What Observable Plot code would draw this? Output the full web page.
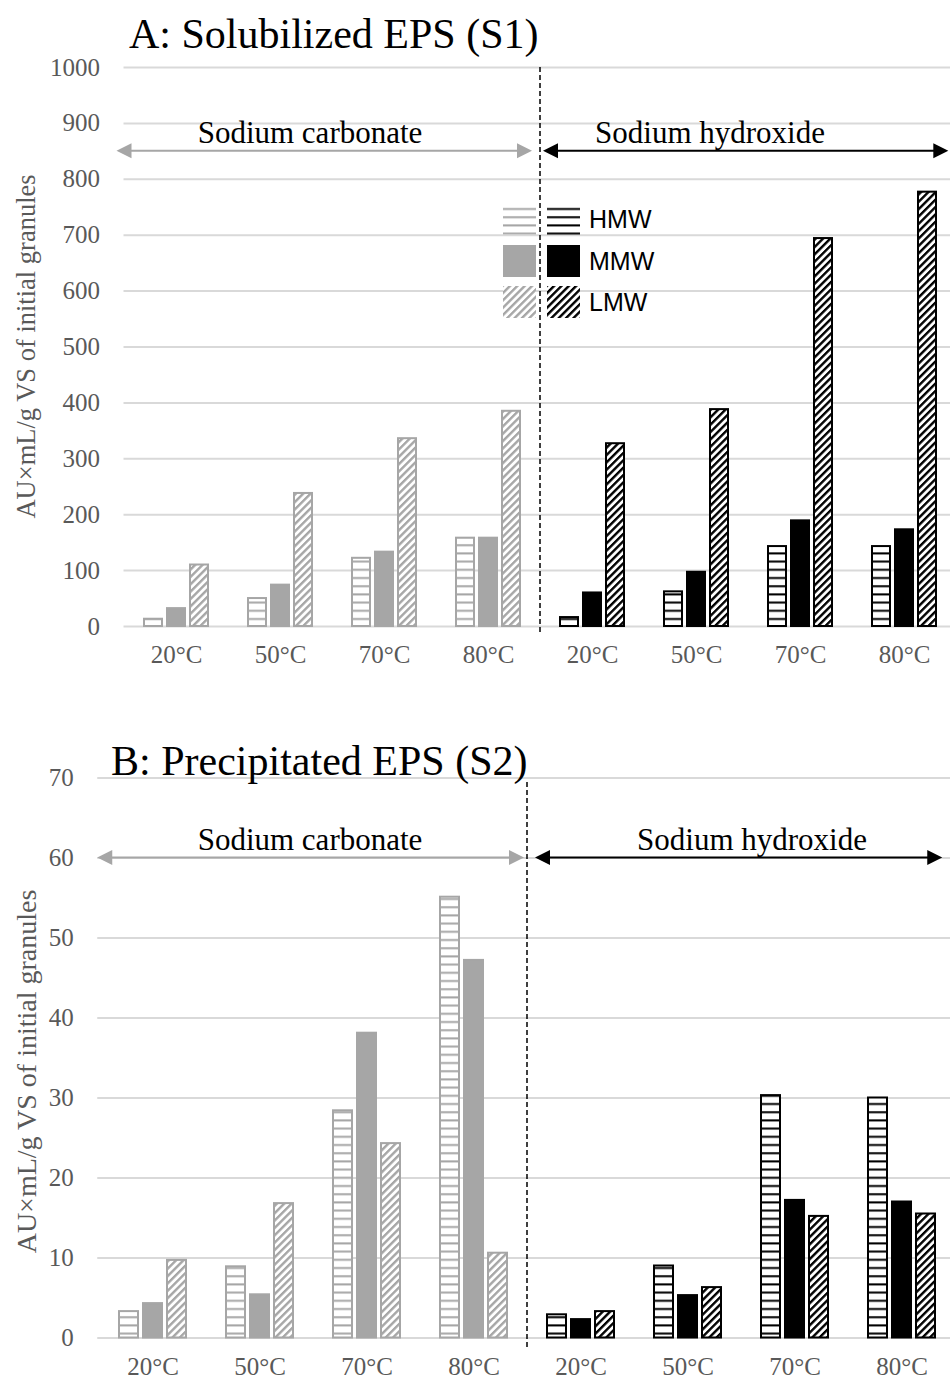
<!DOCTYPE html>
<html><head><meta charset="utf-8">
<script src="https://cdn.jsdelivr.net/npm/d3@7"></script>
<script src="https://cdn.jsdelivr.net/npm/@observablehq/plot@0.6"></script>
<style>
html,body{margin:0;padding:0;background:#fff;overflow:hidden;width:950px;height:1381px}
#wrap{width:950px;height:1381px;overflow:hidden;position:relative}
#wrap svg{display:block;overflow:visible;max-width:none !important;height:auto}
#wrap svg [aria-label^="x-axis"] text{font-size:25px}
#wrap svg [aria-label^="y-axis"] text{font-size:25px}
</style></head><body><div id="wrap"></div>
<script>
// ---------- data ----------
const temps = ["20°C", "50°C", "70°C", "80°C"];
const reagents = ["Sodium carbonate", "Sodium hydroxide"];
const fractions = ["HMW", "MMW", "LMW"];

// Panel A: Solubilized EPS (S1)
const A_carbonate_HMW = [13, 50, 122, 158];
const A_carbonate_MMW = [32, 74, 133, 158];
const A_carbonate_LMW = [110, 238, 336, 385];
const A_hydroxide_HMW = [16, 62, 143, 143];
const A_hydroxide_MMW = [60, 97, 189, 173];
const A_hydroxide_LMW = [327, 388, 694, 777];

// Panel B: Precipitated EPS (S2)
const B_carbonate_HMW = [3.3, 8.9, 28.4, 55.1];
const B_carbonate_MMW = [4.3, 5.4, 38.1, 47.2];
const B_carbonate_LMW = [9.7, 16.8, 24.3, 10.6];
const B_hydroxide_HMW = [2.9, 9.0, 30.3, 30.0];
const B_hydroxide_MMW = [2.3, 5.3, 17.2, 17.0];
const B_hydroxide_LMW = [3.3, 6.3, 15.2, 15.5];

const yTicksA = [0, 100, 200, 300, 400, 500, 600, 700, 800, 900, 1000];
const yTicksB = [0, 10, 20, 30, 40, 50, 60, 70];

const titleA = "A: Solubilized EPS (S1)";
const titleB = "B: Precipitated EPS (S2)";
const yTitle = "AU×mL/g VS of initial granules";

// ---------- helpers ----------
const GRAY = "#a6a6a6", BLACK = "#000000";
const SERIF = '"Liberation Serif","Times New Roman",serif';

function rows(series) {
  const out = [];
  reagents.forEach((r, ri) => {
    fractions.forEach((f, fi) => {
      series[ri][fi].forEach((v, ti) => {
        out.push({reagent: r, fraction: f, temp: temps[ti], key: r + "|" + temps[ti], value: v});
      });
    });
  });
  return out;
}

function addPatterns(svg, id) {
  const defs = svg.insert("defs", ":first-child");
  [["gray", GRAY], ["black", BLACK]].forEach(([n, c]) => {
    const h = defs.append("pattern").attr("id", `${id}-hmw-${n}`)
      .attr("patternUnits", "userSpaceOnUse").attr("width", 8).attr("height", 8.2);
    h.append("rect").attr("width", 8).attr("height", 8.2).attr("fill", "#fff");
    h.append("rect").attr("y", 3).attr("width", 8).attr("height", 2).attr("fill", c);
    const l = defs.append("pattern").attr("id", `${id}-lmw-${n}`)
      .attr("patternUnits", "userSpaceOnUse").attr("width", 5.2).attr("height", 5.2)
      .attr("patternTransform", "rotate(45)");
    l.append("rect").attr("width", 5.2).attr("height", 5.2).attr("fill", "#fff");
    l.append("rect").attr("width", 2.4).attr("height", 5.2).attr("fill", c);
  });
}

function xHelpers(chart) {
  const s = chart.scale("x");
  const band = d3.scaleBand().domain(s.domain).range(s.range)
    .paddingInner(s.paddingInner ?? 0).paddingOuter(s.paddingOuter ?? 0).align(s.align ?? 0.5);
  const start = v => (s.apply ? s.apply(v) : band(v));
  const bw = s.bandwidth ?? band.bandwidth();
  const step = s.step ?? band.step();
  return {center: v => start(v) + bw / 2, step, range: s.range};
}
function yApply(chart) {
  const s = chart.scale("y");
  const lin = d3.scaleLinear().domain(s.domain).range(s.range);
  return v => (s.apply ? s.apply(v) : lin(v));
}

function arrow(g, x1, x2, y, color) {
  const hl = 15, hw = 7.5;
  g.append("line").attr("x1", x1 + hl - 1).attr("x2", x2 - hl + 1).attr("y1", y).attr("y2", y)
    .attr("stroke", color).attr("stroke-width", 2);
  g.append("path").attr("d", `M${x1},${y}L${x1 + hl},${y - hw}L${x1 + hl},${y + hw}Z`).attr("fill", color);
  g.append("path").attr("d", `M${x2},${y}L${x2 - hl},${y - hw}L${x2 - hl},${y + hw}Z`).attr("fill", color);
}

function makePanel(cfg) {
  const data = rows(cfg.series);
  const keys = [];
  reagents.forEach(r => temps.forEach(t => keys.push(r + "|" + t)));
  const marks = [Plot.ruleY(cfg.yTicks, {stroke: "#d9d9d9", strokeWidth: 2})];
  reagents.forEach((r, ri) => {
    const cname = ri === 0 ? "gray" : "black";
    const col = ri === 0 ? GRAY : BLACK;
    fractions.forEach((f, fi) => {
      const fill = f === "MMW" ? col : `url(#${cfg.id}-${f.toLowerCase()}-${cname})`;
      marks.push(Plot.barY(data.filter(d => d.reagent === r && d.fraction === f), {
        x: "key", y: "value", fill, stroke: col, strokeWidth: 2,
        dx: (fi - 1) * cfg.barStep
      }));
    });
  });
  const chart = Plot.plot({
    width: 958, height: cfg.height,
    marginLeft: cfg.marginLeft, marginRight: cfg.marginRight,
    marginTop: cfg.marginTop, marginBottom: cfg.marginBottom,
    style: {fontFamily: SERIF, fontSize: "24px", color: "#595959", background: "transparent",
            overflow: "visible", maxWidth: "none"},
    x: {domain: keys, paddingInner: cfg.pad, paddingOuter: cfg.pad / 2, tickSize: 0, tickPadding: 19,
        tickFormat: k => k.split("|")[1], label: null},
    y: {domain: [0, cfg.yTicks[cfg.yTicks.length - 1]], ticks: cfg.yTicks, tickSize: 0, tickPadding: 24,
        tickFormat: d => String(d), label: null},
    marks
  });
  document.getElementById("wrap").appendChild(chart);
  const svg = d3.select(chart);
  addPatterns(svg, cfg.id);

  const xh = xHelpers(chart);
  const y = yApply(chart);
  const L = xh.range[0], R = xh.range[1];
  const divX = xh.center(reagents[1] + "|" + temps[0]) - xh.step / 2;
  const g = svg.append("g").attr("text-anchor", "start");

  // divider
  g.append("line").attr("x1", divX).attr("x2", divX)
    .attr("y1", cfg.divTop).attr("y2", cfg.divBottom)
    .attr("stroke", "#000").attr("stroke-width", 1.5).attr("stroke-dasharray", "5,3");

  // arrows
  const ay = y(cfg.arrowValue);
  arrow(g, L + cfg.arrowOff[0], divX + cfg.arrowOff[1], ay, GRAY);
  arrow(g, divX + cfg.arrowOff[2], R + cfg.arrowOff[3], ay, BLACK);
  g.append("text").attr("x", cfg.labelX[0]).attr("y", ay - 8).attr("text-anchor", "middle")
    .attr("font-family", SERIF).attr("font-size", 31).attr("fill", "#000").text(reagents[0]);
  g.append("text").attr("x", cfg.labelX[1]).attr("y", ay - 8).attr("text-anchor", "middle")
    .attr("font-family", SERIF).attr("font-size", 31).attr("fill", "#000").text(reagents[1]);

  // title
  g.append("text").attr("x", cfg.titleX).attr("y", cfg.titleY).attr("text-anchor", "start")
    .attr("font-family", SERIF).attr("font-size", 42).attr("fill", "#000").text(cfg.title);

  // y title
  const cy = (y(cfg.yTicks[0]) + y(cfg.yTicks[cfg.yTicks.length - 1])) / 2 + cfg.yTitleShift;
  g.append("text").attr("transform", `translate(26,${cy}) rotate(-90)`)
    .attr("text-anchor", "middle").attr("dy", "0.35em")
    .attr("font-family", SERIF).attr("font-size", cfg.yTitleSize).attr("fill", "#595959").text(yTitle);

  return {svg, g};
}

// ---------- panel A ----------
const pA = makePanel({
  id: "pa", title: titleA, titleX: 129, titleY: 48,
  series: [[A_carbonate_HMW, A_carbonate_MMW, A_carbonate_LMW], [A_hydroxide_HMW, A_hydroxide_MMW, A_hydroxide_LMW]],
  yTicks: yTicksA, height: 690, marginTop: 67, marginBottom: 64, marginLeft: 123.5, marginRight: 1.7,
  pad: 0.827, barStep: 23, arrowValue: 850, arrowOff: [-7, -8, 3, -8], labelX: [310, 710],
  divTop: 67, divBottom: 633, yTitleShift: 0, yTitleSize: 26.5
});
// legend in panel A
{
  const lg = pA.g.append("g").attr("text-anchor", "start");
  const rowsY = [203, 245, 286];
  fractions.forEach((f, i) => {
    [["gray", GRAY, 503], ["black", BLACK, 547]].forEach(([n, c, x]) => {
      lg.append("rect").attr("x", x).attr("y", rowsY[i]).attr("width", 33).attr("height", 32)
        .attr("fill", f === "MMW" ? c : `url(#pa-${f.toLowerCase()}-${n})`);
    });
    lg.append("text").attr("x", 589).attr("y", rowsY[i] + 25).attr("text-anchor", "start")
      .attr("font-family", '"Liberation Sans",Arial,sans-serif').attr("font-size", 25).attr("fill", "#000").text(f);
  });
}

// ---------- panel B ----------
makePanel({
  id: "pb", title: titleB, titleX: 111, titleY: 85,
  series: [[B_carbonate_HMW, B_carbonate_MMW, B_carbonate_LMW], [B_hydroxide_HMW, B_hydroxide_MMW, B_hydroxide_LMW]],
  yTicks: yTicksB, height: 691, marginTop: 87.5, marginBottom: 43.5, marginLeft: 97.25, marginRight: 0.75,
  pad: 0.823, barStep: 24, arrowValue: 60, arrowOff: [0, -3, 8, -15], labelX: [310, 752],
  divTop: 92, divBottom: 658, yTitleShift: 14, yTitleSize: 28
});
</script></body></html>
